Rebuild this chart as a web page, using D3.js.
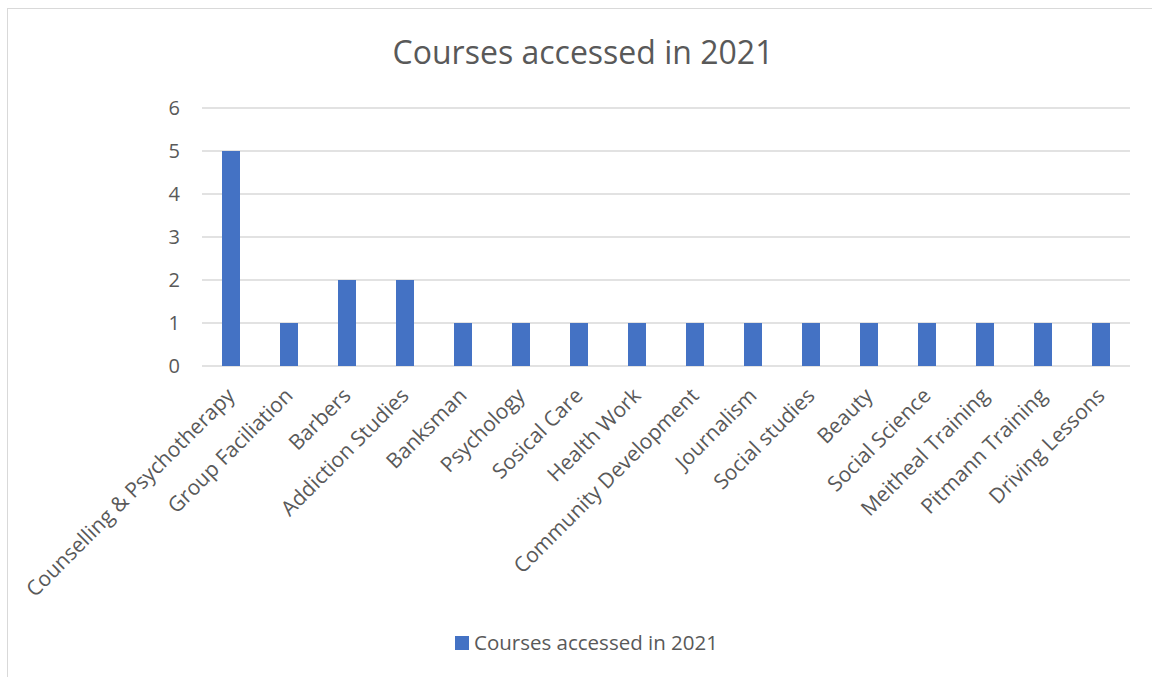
<!DOCTYPE html>
<html><head><meta charset="utf-8">
<script src="https://cdn.jsdelivr.net/npm/d3@7/dist/d3.min.js"></script>
<style>body{margin:0;background:#fff;} text{font-family:"Open Sans",sans-serif;}</style>
</head><body>
<svg id="c" width="1152" height="677"></svg>
<script>
const categories = ["Counselling & Psychotherapy","Group Faciliation","Barbers","Addiction Studies","Banksman","Psychology","Sosical Care","Health Work","Community Development","Journalism","Social studies","Beauty","Social Science","Meitheal Training","Pitmann Training","Driving Lessons"];
const values = [5,1,2,2,1,1,1,1,1,1,1,1,1,1,1,1];
const yTicks = [0,1,2,3,4,5,6];
const seriesName = "Courses accessed in 2021";
const chartTitle = "Courses accessed in 2021";

(function(){
const svg = d3.select("#c");
svg.append("rect").attr("x",7.5).attr("y",8.5).attr("width",1160).attr("height",700)
  .attr("fill","#fff").attr("stroke","#d9d9d9").attr("stroke-width",1);

const pL=202, pR=1130, pT=108, pB=366;
const x = d3.scaleBand().domain(categories).range([pL,pR]);
const y = d3.scaleLinear().domain([0,6]).range([pB,pT]);

svg.append("text").attr("x",583).attr("y",64).attr("text-anchor","middle")
  .attr("font-size",32).attr("fill","#595959").text(chartTitle);

const g = svg.append("g");
g.selectAll("line.grid").data(yTicks).join("line")
  .attr("x1",pL).attr("x2",pR).attr("y1",d=>y(d)).attr("y2",d=>y(d))
  .attr("stroke","#d9d9d9").attr("stroke-width",1.3);

const yAxis = d3.axisLeft(y).tickValues(yTicks).tickFormat(d3.format("d")).tickSize(0).tickPadding(22);
const ya = svg.append("g").attr("transform",`translate(${pL},0)`).call(yAxis);
ya.attr("font-size",null).attr("font-family",null);
ya.select(".domain").remove();
ya.selectAll("text").attr("font-size",20).attr("fill","#595959");

const bw = 18;
g.selectAll("rect.bar").data(values).join("rect")
  .attr("x",(d,i)=>x(categories[i])+x.bandwidth()/2-bw/2)
  .attr("width",bw)
  .attr("y",d=>y(d)).attr("height",d=>y(0)-y(d))
  .attr("fill","#4472c4");

const xAxis = d3.axisBottom(x).tickSize(0).tickPadding(0);
const xa = svg.append("g").attr("transform",`translate(0,${pB})`).call(xAxis);
xa.attr("font-size",null).attr("font-family",null);
xa.select(".domain").remove();
xa.selectAll("text").attr("font-size",21).attr("fill","#595959")
  .attr("text-anchor","end").attr("dy",0).attr("y",0)
  .attr("transform","translate(5,31) rotate(-45)");

const lg = svg.append("g");
lg.append("rect").attr("x",455).attr("y",636).attr("width",14).attr("height",14).attr("fill","#4472c4");
lg.append("text").attr("x",474).attr("y",650).attr("font-size",20.5).attr("fill","#595959").text(seriesName);
})();
</script>
</body></html>
